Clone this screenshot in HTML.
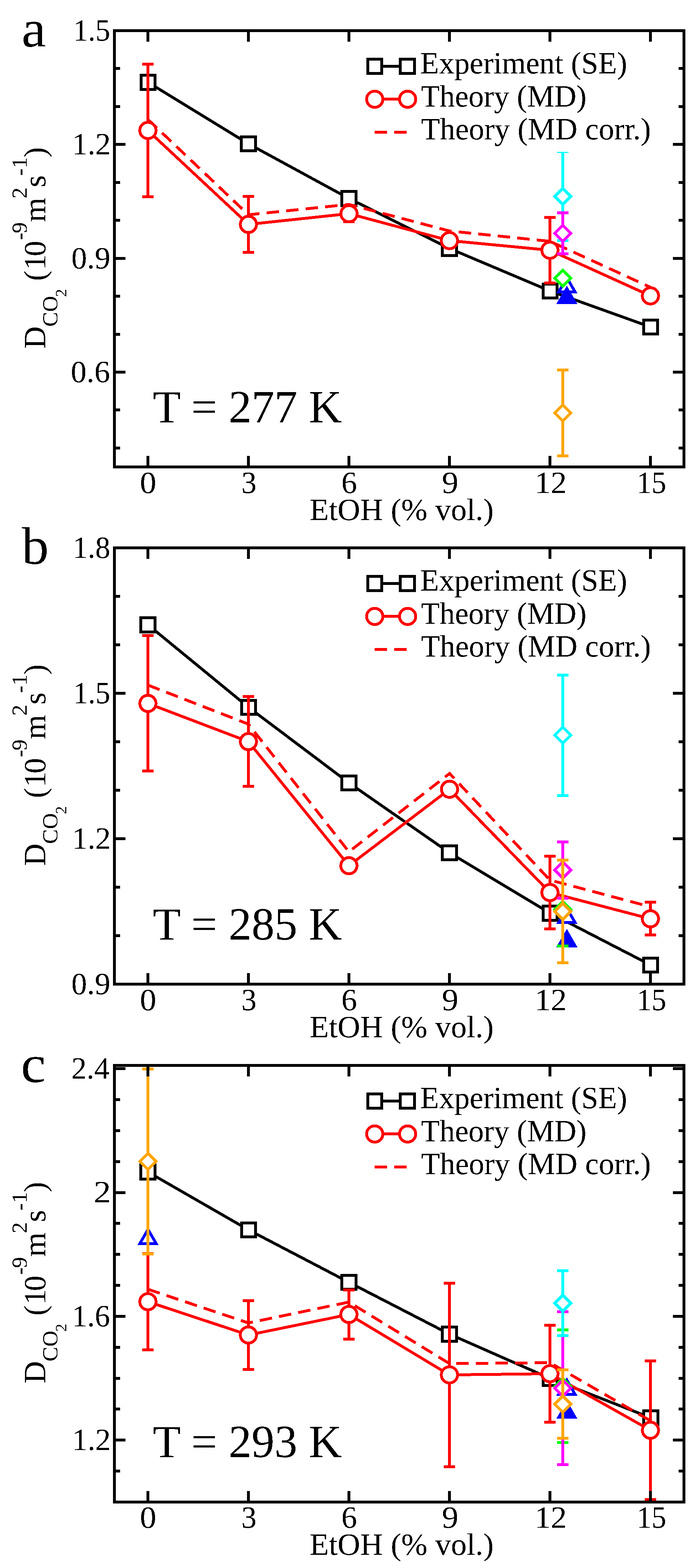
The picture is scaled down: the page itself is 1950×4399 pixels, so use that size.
<!DOCTYPE html>
<html><head><meta charset="utf-8"><title>D_CO2 vs EtOH</title><style>html,body{margin:0;padding:0;background:#fff;}svg{display:block;}</style></head><body>
<svg width="1950" height="4399" viewBox="0 0 1950 4399" font-family="'Liberation Serif', 'Times New Roman', serif" shape-rendering="crispEdges">
<defs><filter id="bin" x="-5%" y="-5%" width="110%" height="110%"><feComponentTransfer><feFuncA type="discrete" tableValues="0 1"/></feComponentTransfer></filter></defs>
<rect width="1950" height="4399" fill="#fff"/>
<text x="392.5" y="1383.3" font-size="87" text-anchor="start" filter="url(#bin)" textLength="46.0" lengthAdjust="spacingAndGlyphs">0</text>
<text x="677.2" y="1383.3" font-size="87" text-anchor="start" filter="url(#bin)" textLength="42.5" lengthAdjust="spacingAndGlyphs">3</text>
<text x="957.7" y="1383.3" font-size="87" text-anchor="start" filter="url(#bin)" textLength="43.9" lengthAdjust="spacingAndGlyphs">6</text>
<text x="1239.7" y="1383.3" font-size="87" text-anchor="start" filter="url(#bin)" textLength="46.4" lengthAdjust="spacingAndGlyphs">9</text>
<text x="1500.3" y="1383.3" font-size="87" text-anchor="start" filter="url(#bin)" textLength="90.0" lengthAdjust="spacingAndGlyphs">12</text>
<text x="1786.8" y="1383.3" font-size="87" text-anchor="start" filter="url(#bin)" textLength="82.5" lengthAdjust="spacingAndGlyphs">15</text>
<text x="1127.0" y="1459.2" font-size="87" text-anchor="middle" filter="url(#bin)" textLength="516.4" lengthAdjust="spacingAndGlyphs">EtOH (% vol.)</text>
<text x="60.6" y="131.4" font-size="148" text-anchor="start" filter="url(#bin)" textLength="68.8" lengthAdjust="spacingAndGlyphs">a</text>
<text x="428.7" y="1184.6" font-size="130" text-anchor="start" filter="url(#bin)" textLength="530.6" lengthAdjust="spacingAndGlyphs">T = 277 K</text>
<path d="M1051.5 186.0H1143" stroke="#000" stroke-width="8"/>
<rect x="1031.8" y="166.2" width="39.5" height="39.5" fill="#fff" stroke="#000000" stroke-width="8"/>
<rect x="1123.2" y="166.2" width="39.5" height="39.5" fill="#fff" stroke="#000000" stroke-width="8"/>
<path d="M1051.4 278.4H1143.7" stroke="#ff0000" stroke-width="8"/>
<circle cx="1051.4" cy="278.4" r="22.75" fill="#fff" stroke="#ff0000" stroke-width="8"/>
<circle cx="1143.7" cy="278.4" r="22.75" fill="#fff" stroke="#ff0000" stroke-width="8"/>
<path d="M1051 370.9H1143" stroke="#ff0000" stroke-width="8" stroke-dasharray="35 20"/>
<text x="1179.1" y="205.6" font-size="87" text-anchor="start" filter="url(#bin)" textLength="580.7" lengthAdjust="spacingAndGlyphs">Experiment (SE)</text>
<text x="1181.2" y="298.8" font-size="87" text-anchor="start" filter="url(#bin)" textLength="464.5" lengthAdjust="spacingAndGlyphs">Theory (MD)</text>
<text x="1181.2" y="390.6" font-size="87" text-anchor="start" filter="url(#bin)" textLength="645.2" lengthAdjust="spacingAndGlyphs">Theory (MD corr.)</text>
<g transform="translate(0 0)"><text transform="rotate(-90)" filter="url(#bin)"><tspan x="-978.3" y="126.8" font-size="87">D</tspan><tspan x="-916.4" y="160.8" font-size="62">CO</tspan><tspan x="-832.9" y="185.6" font-size="45">2</tspan><tspan x="-788.1" y="126.8" font-size="87">(</tspan><tspan x="-757.4" y="126.8" font-size="87">1</tspan><tspan x="-719.0" y="126.8" font-size="87">0</tspan><tspan x="-673.3" y="75.0" font-size="62">-</tspan><tspan x="-654.6" y="75.0" font-size="62">9</tspan><tspan x="-622.4" y="126.8" font-size="87">m</tspan><tspan x="-557.1" y="75.0" font-size="62">2</tspan><tspan x="-525.6" y="126.8" font-size="87">s</tspan><tspan x="-493.0" y="75.0" font-size="62">-</tspan><tspan x="-472.0" y="75.0" font-size="62">1</tspan><tspan x="-441.8" y="126.8" font-size="87">)</tspan></text></g>
<path d="M415.5 231.0 L697.0 403.4 L979.0 556.8 L1261.0 697.0 L1543.4 816.3 L1825.5 917.4" fill="none" stroke="#000000" stroke-width="8" stroke-linejoin="miter"/>
<rect x="395.8" y="211.2" width="39.5" height="39.5" fill="#fff" stroke="#000000" stroke-width="8"/>
<rect x="677.2" y="383.6" width="39.5" height="39.5" fill="#fff" stroke="#000000" stroke-width="8"/>
<rect x="959.2" y="537.0" width="39.5" height="39.5" fill="#fff" stroke="#000000" stroke-width="8"/>
<rect x="1241.2" y="677.2" width="39.5" height="39.5" fill="#fff" stroke="#000000" stroke-width="8"/>
<rect x="1523.7" y="796.5" width="39.5" height="39.5" fill="#fff" stroke="#000000" stroke-width="8"/>
<rect x="1805.8" y="897.6" width="39.5" height="39.5" fill="#fff" stroke="#000000" stroke-width="8"/>
<path d="M415.0 180.0V552.0" stroke="#ff0000" stroke-width="8"/><rect x="399.0" y="176.0" width="32" height="8" fill="#ff0000"/><rect x="399.0" y="548.0" width="32" height="8" fill="#ff0000"/>
<path d="M697.0 551.0V708.0" stroke="#ff0000" stroke-width="8"/><rect x="681.0" y="547.0" width="32" height="8" fill="#ff0000"/><rect x="681.0" y="704.0" width="32" height="8" fill="#ff0000"/>
<path d="M979.2 577.0V622.0" stroke="#ff0000" stroke-width="8"/><rect x="963.2" y="573.0" width="32" height="8" fill="#ff0000"/><rect x="963.2" y="618.0" width="32" height="8" fill="#ff0000"/>
<path d="M1543.0 610.0V794.0" stroke="#ff0000" stroke-width="8"/><rect x="1527.0" y="606.0" width="32" height="8" fill="#ff0000"/><rect x="1527.0" y="790.0" width="32" height="8" fill="#ff0000"/>
<path d="M415.0 366.0 L697.0 629.5 L979.2 599.4 L1261.0 675.0 L1543.0 702.0 L1825.0 830.0" fill="none" stroke="#ff0000" stroke-width="8" stroke-linejoin="miter"/>
<circle cx="415.0" cy="366.0" r="22.75" fill="#fff" stroke="#ff0000" stroke-width="8"/>
<circle cx="697.0" cy="629.5" r="22.75" fill="#fff" stroke="#ff0000" stroke-width="8"/>
<circle cx="979.2" cy="599.4" r="22.75" fill="#fff" stroke="#ff0000" stroke-width="8"/>
<circle cx="1261.0" cy="675.0" r="22.75" fill="#fff" stroke="#ff0000" stroke-width="8"/>
<circle cx="1543.0" cy="702.0" r="22.75" fill="#fff" stroke="#ff0000" stroke-width="8"/>
<circle cx="1825.0" cy="830.0" r="22.75" fill="#fff" stroke="#ff0000" stroke-width="8"/>
<path d="M415.0 335.0 L697.0 602.5 L979.0 573.5 L1261.0 648.0 L1543.0 677.0 L1825.0 806.0" fill="none" stroke="#ff0000" stroke-width="8" stroke-linejoin="miter" stroke-dasharray="35 20"/>
<path d="M1590.5 779.1L1613.4 818.7L1567.6 818.7Z" fill="#fff" stroke="#0000ff" stroke-width="8" stroke-linejoin="miter"/>
<path d="M1590.5 809.4L1613.4 849.0L1567.6 849.0Z" fill="#0000ff" stroke="#0000ff" stroke-width="8" stroke-linejoin="miter"/>
<path d="M1579.0 427.5V675.0" stroke="#00ffff" stroke-width="8"/><rect x="1563.0" y="426.0" width="32" height="3" fill="#00ffff"/><rect x="1563.0" y="671.0" width="32" height="8" fill="#00ffff"/>
<path d="M1579.0 528.4L1601.6 551.0L1579.0 573.6L1556.4 551.0Z" fill="#fff" stroke="#00ffff" stroke-width="8" stroke-linejoin="miter"/>
<path d="M1579.0 597.0V712.0" stroke="#ff00ff" stroke-width="8"/><rect x="1563.0" y="593.0" width="32" height="8" fill="#ff00ff"/><rect x="1563.0" y="708.0" width="32" height="8" fill="#ff00ff"/>
<path d="M1579.0 631.8L1601.6 654.4L1579.0 677.0L1556.4 654.4Z" fill="#fff" stroke="#ff00ff" stroke-width="8" stroke-linejoin="miter"/>
<path d="M1579.0 757.7L1601.6 780.3L1579.0 802.9L1556.4 780.3Z" fill="#fff" stroke="#00ff00" stroke-width="8" stroke-linejoin="miter"/>
<path d="M1579.0 1038.0V1279.0" stroke="#ffa500" stroke-width="8"/><rect x="1563.0" y="1034.0" width="32" height="8" fill="#ffa500"/><rect x="1563.0" y="1275.0" width="32" height="8" fill="#ffa500"/>
<path d="M1579.0 1135.7L1601.6 1158.3L1579.0 1180.9L1556.4 1158.3Z" fill="#fff" stroke="#ffa500" stroke-width="8" stroke-linejoin="miter"/>
<g stroke="#000" stroke-width="8" fill="none" shape-rendering="crispEdges">
<rect x="321" y="86" width="1598" height="1224"/>
<path d="M415 1310V1279 M415 86V117 M697 1310V1279 M697 86V117 M979 1310V1279 M979 86V117 M1261 1310V1279 M1261 86V117 M1543 1310V1279 M1543 86V117 M1825 1310V1279 M1825 86V117 M321 86.0H352 M1919 86.0H1888 M321 405.3H352 M1919 405.3H1888 M321 724.6H352 M1919 724.6H1888 M321 1043.9H352 M1919 1043.9H1888 M321 192.4H337 M1919 192.4H1904 M321 298.9H337 M1919 298.9H1904 M321 511.7H337 M1919 511.7H1904 M321 618.2H337 M1919 618.2H1904 M321 831.0H337 M1919 831.0H1904 M321 937.5H337 M1919 937.5H1904 M321 1150.3H337 M1919 1150.3H1904 M321 1256.8H337 M1919 1256.8H1904"/>
</g>
<text x="309.2" y="113.9" font-size="87" text-anchor="end" filter="url(#bin)" textLength="103.5" lengthAdjust="spacingAndGlyphs">1.5</text>
<text x="310.8" y="433.2" font-size="87" text-anchor="end" filter="url(#bin)" textLength="108.6" lengthAdjust="spacingAndGlyphs">1.2</text>
<text x="309.6" y="752.5" font-size="87" text-anchor="end" filter="url(#bin)" textLength="109.3" lengthAdjust="spacingAndGlyphs">0.9</text>
<text x="308.6" y="1071.8" font-size="87" text-anchor="end" filter="url(#bin)" textLength="109.9" lengthAdjust="spacingAndGlyphs">0.6</text>
<text x="392.5" y="2834.3" font-size="87" text-anchor="start" filter="url(#bin)" textLength="46.0" lengthAdjust="spacingAndGlyphs">0</text>
<text x="677.2" y="2834.3" font-size="87" text-anchor="start" filter="url(#bin)" textLength="42.5" lengthAdjust="spacingAndGlyphs">3</text>
<text x="957.7" y="2834.3" font-size="87" text-anchor="start" filter="url(#bin)" textLength="43.9" lengthAdjust="spacingAndGlyphs">6</text>
<text x="1239.7" y="2834.3" font-size="87" text-anchor="start" filter="url(#bin)" textLength="46.4" lengthAdjust="spacingAndGlyphs">9</text>
<text x="1500.3" y="2834.3" font-size="87" text-anchor="start" filter="url(#bin)" textLength="90.0" lengthAdjust="spacingAndGlyphs">12</text>
<text x="1786.8" y="2834.3" font-size="87" text-anchor="start" filter="url(#bin)" textLength="82.5" lengthAdjust="spacingAndGlyphs">15</text>
<text x="1127.0" y="2910.2" font-size="87" text-anchor="middle" filter="url(#bin)" textLength="516.4" lengthAdjust="spacingAndGlyphs">EtOH (% vol.)</text>
<text x="60.9" y="1582.4" font-size="148" text-anchor="start" filter="url(#bin)" textLength="75.8" lengthAdjust="spacingAndGlyphs">b</text>
<text x="428.7" y="2635.6" font-size="130" text-anchor="start" filter="url(#bin)" textLength="530.6" lengthAdjust="spacingAndGlyphs">T = 285 K</text>
<path d="M1051.5 1637.0H1143" stroke="#000" stroke-width="8"/>
<rect x="1031.8" y="1617.2" width="39.5" height="39.5" fill="#fff" stroke="#000000" stroke-width="8"/>
<rect x="1123.2" y="1617.2" width="39.5" height="39.5" fill="#fff" stroke="#000000" stroke-width="8"/>
<path d="M1051.4 1729.4H1143.7" stroke="#ff0000" stroke-width="8"/>
<circle cx="1051.4" cy="1729.4" r="22.75" fill="#fff" stroke="#ff0000" stroke-width="8"/>
<circle cx="1143.7" cy="1729.4" r="22.75" fill="#fff" stroke="#ff0000" stroke-width="8"/>
<path d="M1051 1821.9H1143" stroke="#ff0000" stroke-width="8" stroke-dasharray="35 20"/>
<text x="1179.1" y="1656.6" font-size="87" text-anchor="start" filter="url(#bin)" textLength="580.7" lengthAdjust="spacingAndGlyphs">Experiment (SE)</text>
<text x="1181.2" y="1749.8" font-size="87" text-anchor="start" filter="url(#bin)" textLength="464.5" lengthAdjust="spacingAndGlyphs">Theory (MD)</text>
<text x="1181.2" y="1841.6" font-size="87" text-anchor="start" filter="url(#bin)" textLength="645.2" lengthAdjust="spacingAndGlyphs">Theory (MD corr.)</text>
<g transform="translate(0 1451)"><text transform="rotate(-90)" filter="url(#bin)"><tspan x="-978.3" y="126.8" font-size="87">D</tspan><tspan x="-916.4" y="160.8" font-size="62">CO</tspan><tspan x="-832.9" y="185.6" font-size="45">2</tspan><tspan x="-788.1" y="126.8" font-size="87">(</tspan><tspan x="-757.4" y="126.8" font-size="87">1</tspan><tspan x="-719.0" y="126.8" font-size="87">0</tspan><tspan x="-673.3" y="75.0" font-size="62">-</tspan><tspan x="-654.6" y="75.0" font-size="62">9</tspan><tspan x="-622.4" y="126.8" font-size="87">m</tspan><tspan x="-557.1" y="75.0" font-size="62">2</tspan><tspan x="-525.6" y="126.8" font-size="87">s</tspan><tspan x="-493.0" y="75.0" font-size="62">-</tspan><tspan x="-472.0" y="75.0" font-size="62">1</tspan><tspan x="-441.8" y="126.8" font-size="87">)</tspan></text></g>
<path d="M415.0 1752.8 L697.4 1984.4 L979.0 2196.3 L1261.0 2392.3 L1543.5 2561.9 L1825.5 2707.3" fill="none" stroke="#000000" stroke-width="8" stroke-linejoin="miter"/>
<rect x="395.2" y="1733.0" width="39.5" height="39.5" fill="#fff" stroke="#000000" stroke-width="8"/>
<rect x="677.6" y="1964.7" width="39.5" height="39.5" fill="#fff" stroke="#000000" stroke-width="8"/>
<rect x="959.2" y="2176.6" width="39.5" height="39.5" fill="#fff" stroke="#000000" stroke-width="8"/>
<rect x="1241.2" y="2372.6" width="39.5" height="39.5" fill="#fff" stroke="#000000" stroke-width="8"/>
<rect x="1523.8" y="2542.2" width="39.5" height="39.5" fill="#fff" stroke="#000000" stroke-width="8"/>
<rect x="1805.8" y="2687.6" width="39.5" height="39.5" fill="#fff" stroke="#000000" stroke-width="8"/>
<path d="M415.0 1783.0V2163.0" stroke="#ff0000" stroke-width="8"/><rect x="399.0" y="1779.0" width="32" height="8" fill="#ff0000"/><rect x="399.0" y="2159.0" width="32" height="8" fill="#ff0000"/>
<path d="M697.0 1954.0V2206.0" stroke="#ff0000" stroke-width="8"/><rect x="681.0" y="1950.0" width="32" height="8" fill="#ff0000"/><rect x="681.0" y="2202.0" width="32" height="8" fill="#ff0000"/>
<path d="M1543.0 2402.0V2606.0" stroke="#ff0000" stroke-width="8"/><rect x="1527.0" y="2398.0" width="32" height="8" fill="#ff0000"/><rect x="1527.0" y="2602.0" width="32" height="8" fill="#ff0000"/>
<path d="M1825.0 2531.0V2623.0" stroke="#ff0000" stroke-width="8"/><rect x="1809.0" y="2527.0" width="32" height="8" fill="#ff0000"/><rect x="1809.0" y="2619.0" width="32" height="8" fill="#ff0000"/>
<path d="M415.0 1973.4 L697.0 2080.6 L979.0 2428.7 L1261.3 2214.2 L1543.0 2504.0 L1825.0 2577.7" fill="none" stroke="#ff0000" stroke-width="8" stroke-linejoin="miter"/>
<circle cx="415.0" cy="1973.4" r="22.75" fill="#fff" stroke="#ff0000" stroke-width="8"/>
<circle cx="697.0" cy="2080.6" r="22.75" fill="#fff" stroke="#ff0000" stroke-width="8"/>
<circle cx="979.0" cy="2428.7" r="22.75" fill="#fff" stroke="#ff0000" stroke-width="8"/>
<circle cx="1261.3" cy="2214.2" r="22.75" fill="#fff" stroke="#ff0000" stroke-width="8"/>
<circle cx="1543.0" cy="2504.0" r="22.75" fill="#fff" stroke="#ff0000" stroke-width="8"/>
<circle cx="1825.0" cy="2577.7" r="22.75" fill="#fff" stroke="#ff0000" stroke-width="8"/>
<path d="M415.0 1922.0 L697.0 2031.5 L979.0 2389.7 L1261.5 2170.0 L1543.0 2469.0 L1825.0 2544.0" fill="none" stroke="#ff0000" stroke-width="8" stroke-linejoin="miter" stroke-dasharray="35 20"/>
<path d="M1590.5 2548.2L1613.4 2587.8L1567.6 2587.8Z" fill="#fff" stroke="#0000ff" stroke-width="8" stroke-linejoin="miter"/>
<path d="M1590.5 2613.9L1613.4 2653.5L1567.6 2653.5Z" fill="#0000ff" stroke="#0000ff" stroke-width="8" stroke-linejoin="miter"/>
<path d="M1579.0 1894.0V2231.7" stroke="#00ffff" stroke-width="8"/><rect x="1563.0" y="1890.0" width="32" height="8" fill="#00ffff"/><rect x="1563.0" y="2227.7" width="32" height="8" fill="#00ffff"/>
<path d="M1579.0 2040.1L1601.6 2062.7L1579.0 2085.3L1556.4 2062.7Z" fill="#fff" stroke="#00ffff" stroke-width="8" stroke-linejoin="miter"/>
<path d="M1579.0 2450.0V2654.0" stroke="#00ff00" stroke-width="8"/><rect x="1563.0" y="2446.0" width="32" height="8" fill="#00ff00"/><rect x="1563.0" y="2650.0" width="32" height="8" fill="#00ff00"/>
<path d="M1579.0 2529.4L1601.6 2552.0L1579.0 2574.6L1556.4 2552.0Z" fill="#fff" stroke="#00ff00" stroke-width="8" stroke-linejoin="miter"/>
<path d="M1579.0 2362.0V2519.8" stroke="#ff00ff" stroke-width="8"/><rect x="1563.0" y="2358.0" width="32" height="8" fill="#ff00ff"/><rect x="1563.0" y="2515.8" width="32" height="8" fill="#ff00ff"/>
<path d="M1579.0 2418.2L1601.6 2440.8L1579.0 2463.4L1556.4 2440.8Z" fill="#fff" stroke="#ff00ff" stroke-width="8" stroke-linejoin="miter"/>
<path d="M1579.0 2413.0V2701.0" stroke="#ffa500" stroke-width="8"/><rect x="1563.0" y="2409.0" width="32" height="8" fill="#ffa500"/><rect x="1563.0" y="2697.0" width="32" height="8" fill="#ffa500"/>
<path d="M1579.0 2534.4L1601.6 2557.0L1579.0 2579.6L1556.4 2557.0Z" fill="#fff" stroke="#ffa500" stroke-width="8" stroke-linejoin="miter"/>
<g stroke="#000" stroke-width="8" fill="none" shape-rendering="crispEdges">
<rect x="321" y="1537" width="1598" height="1224"/>
<path d="M415 2761V2730 M415 1537V1568 M697 2761V2730 M697 1537V1568 M979 2761V2730 M979 1537V1568 M1261 2761V2730 M1261 1537V1568 M1543 2761V2730 M1543 1537V1568 M1825 2761V2730 M1825 1537V1568 M321 1537.0H352 M1919 1537.0H1888 M321 1945.0H352 M1919 1945.0H1888 M321 2353.0H352 M1919 2353.0H1888 M321 2761.0H352 M1919 2761.0H1888 M321 1673.0H337 M1919 1673.0H1904 M321 1809.0H337 M1919 1809.0H1904 M321 2081.0H337 M1919 2081.0H1904 M321 2217.0H337 M1919 2217.0H1904 M321 2489.0H337 M1919 2489.0H1904 M321 2625.0H337 M1919 2625.0H1904"/>
</g>
<text x="309.2" y="1564.9" font-size="87" text-anchor="end" filter="url(#bin)" textLength="105.1" lengthAdjust="spacingAndGlyphs">1.8</text>
<text x="309.2" y="1972.9" font-size="87" text-anchor="end" filter="url(#bin)" textLength="103.5" lengthAdjust="spacingAndGlyphs">1.5</text>
<text x="310.8" y="2380.9" font-size="87" text-anchor="end" filter="url(#bin)" textLength="108.6" lengthAdjust="spacingAndGlyphs">1.2</text>
<text x="309.6" y="2788.9" font-size="87" text-anchor="end" filter="url(#bin)" textLength="109.3" lengthAdjust="spacingAndGlyphs">0.9</text>
<text x="392.5" y="4286.3" font-size="87" text-anchor="start" filter="url(#bin)" textLength="46.0" lengthAdjust="spacingAndGlyphs">0</text>
<text x="677.2" y="4286.3" font-size="87" text-anchor="start" filter="url(#bin)" textLength="42.5" lengthAdjust="spacingAndGlyphs">3</text>
<text x="957.7" y="4286.3" font-size="87" text-anchor="start" filter="url(#bin)" textLength="43.9" lengthAdjust="spacingAndGlyphs">6</text>
<text x="1239.7" y="4286.3" font-size="87" text-anchor="start" filter="url(#bin)" textLength="46.4" lengthAdjust="spacingAndGlyphs">9</text>
<text x="1500.3" y="4286.3" font-size="87" text-anchor="start" filter="url(#bin)" textLength="90.0" lengthAdjust="spacingAndGlyphs">12</text>
<text x="1786.8" y="4286.3" font-size="87" text-anchor="start" filter="url(#bin)" textLength="82.5" lengthAdjust="spacingAndGlyphs">15</text>
<text x="1127.0" y="4362.2" font-size="87" text-anchor="middle" filter="url(#bin)" textLength="516.4" lengthAdjust="spacingAndGlyphs">EtOH (% vol.)</text>
<text x="58.4" y="3035.9" font-size="148" text-anchor="start" filter="url(#bin)" textLength="69.8" lengthAdjust="spacingAndGlyphs">c</text>
<text x="428.7" y="4087.6" font-size="130" text-anchor="start" filter="url(#bin)" textLength="530.6" lengthAdjust="spacingAndGlyphs">T = 293 K</text>
<path d="M1051.5 3089.0H1143" stroke="#000" stroke-width="8"/>
<rect x="1031.8" y="3069.2" width="39.5" height="39.5" fill="#fff" stroke="#000000" stroke-width="8"/>
<rect x="1123.2" y="3069.2" width="39.5" height="39.5" fill="#fff" stroke="#000000" stroke-width="8"/>
<path d="M1051.4 3181.4H1143.7" stroke="#ff0000" stroke-width="8"/>
<circle cx="1051.4" cy="3181.4" r="22.75" fill="#fff" stroke="#ff0000" stroke-width="8"/>
<circle cx="1143.7" cy="3181.4" r="22.75" fill="#fff" stroke="#ff0000" stroke-width="8"/>
<path d="M1051 3273.9H1143" stroke="#ff0000" stroke-width="8" stroke-dasharray="35 20"/>
<text x="1179.1" y="3108.6" font-size="87" text-anchor="start" filter="url(#bin)" textLength="580.7" lengthAdjust="spacingAndGlyphs">Experiment (SE)</text>
<text x="1181.2" y="3201.8" font-size="87" text-anchor="start" filter="url(#bin)" textLength="464.5" lengthAdjust="spacingAndGlyphs">Theory (MD)</text>
<text x="1181.2" y="3293.6" font-size="87" text-anchor="start" filter="url(#bin)" textLength="645.2" lengthAdjust="spacingAndGlyphs">Theory (MD corr.)</text>
<g transform="translate(0 2903)"><text transform="rotate(-90)" filter="url(#bin)"><tspan x="-978.3" y="126.8" font-size="87">D</tspan><tspan x="-916.4" y="160.8" font-size="62">CO</tspan><tspan x="-832.9" y="185.6" font-size="45">2</tspan><tspan x="-788.1" y="126.8" font-size="87">(</tspan><tspan x="-757.4" y="126.8" font-size="87">1</tspan><tspan x="-719.0" y="126.8" font-size="87">0</tspan><tspan x="-673.3" y="75.0" font-size="62">-</tspan><tspan x="-654.6" y="75.0" font-size="62">9</tspan><tspan x="-622.4" y="126.8" font-size="87">m</tspan><tspan x="-557.1" y="75.0" font-size="62">2</tspan><tspan x="-525.6" y="126.8" font-size="87">s</tspan><tspan x="-493.0" y="75.0" font-size="62">-</tspan><tspan x="-472.0" y="75.0" font-size="62">1</tspan><tspan x="-441.8" y="126.8" font-size="87">)</tspan></text></g>
<path d="M415.0 3288.0 L697.5 3450.5 L979.0 3597.5 L1261.0 3742.8 L1543.5 3867.2 L1825.7 3977.5" fill="none" stroke="#000000" stroke-width="8" stroke-linejoin="miter"/>
<rect x="395.2" y="3268.2" width="39.5" height="39.5" fill="#fff" stroke="#000000" stroke-width="8"/>
<rect x="677.8" y="3430.8" width="39.5" height="39.5" fill="#fff" stroke="#000000" stroke-width="8"/>
<rect x="959.2" y="3577.8" width="39.5" height="39.5" fill="#fff" stroke="#000000" stroke-width="8"/>
<rect x="1241.2" y="3723.1" width="39.5" height="39.5" fill="#fff" stroke="#000000" stroke-width="8"/>
<rect x="1523.8" y="3847.4" width="39.5" height="39.5" fill="#fff" stroke="#000000" stroke-width="8"/>
<rect x="1806.0" y="3957.8" width="39.5" height="39.5" fill="#fff" stroke="#000000" stroke-width="8"/>
<path d="M415.0 3517.0V3786.8" stroke="#ff0000" stroke-width="8"/><rect x="399.0" y="3513.0" width="32" height="8" fill="#ff0000"/><rect x="399.0" y="3782.8" width="32" height="8" fill="#ff0000"/>
<path d="M697.0 3649.0V3841.6" stroke="#ff0000" stroke-width="8"/><rect x="681.0" y="3645.0" width="32" height="8" fill="#ff0000"/><rect x="681.0" y="3837.6" width="32" height="8" fill="#ff0000"/>
<path d="M979.0 3618.7V3756.7" stroke="#ff0000" stroke-width="8"/><rect x="963.0" y="3614.7" width="32" height="8" fill="#ff0000"/><rect x="963.0" y="3752.7" width="32" height="8" fill="#ff0000"/>
<path d="M1261.0 3600.0V4114.5" stroke="#ff0000" stroke-width="8"/><rect x="1245.0" y="3596.0" width="32" height="8" fill="#ff0000"/><rect x="1245.0" y="4110.5" width="32" height="8" fill="#ff0000"/>
<path d="M1543.0 3718.0V3989.8" stroke="#ff0000" stroke-width="8"/><rect x="1527.0" y="3714.0" width="32" height="8" fill="#ff0000"/><rect x="1527.0" y="3985.8" width="32" height="8" fill="#ff0000"/>
<path d="M1825.0 3818.3V4206.5" stroke="#ff0000" stroke-width="8"/><rect x="1809.0" y="3814.3" width="32" height="8" fill="#ff0000"/><rect x="1809.0" y="4202.5" width="32" height="8" fill="#ff0000"/>
<path d="M415.0 3651.9 L697.0 3745.3 L979.0 3687.7 L1261.0 3857.2 L1543.0 3853.9 L1825.0 4012.5" fill="none" stroke="#ff0000" stroke-width="8" stroke-linejoin="miter"/>
<circle cx="415.0" cy="3651.9" r="22.75" fill="#fff" stroke="#ff0000" stroke-width="8"/>
<circle cx="697.0" cy="3745.3" r="22.75" fill="#fff" stroke="#ff0000" stroke-width="8"/>
<circle cx="979.0" cy="3687.7" r="22.75" fill="#fff" stroke="#ff0000" stroke-width="8"/>
<circle cx="1261.0" cy="3857.2" r="22.75" fill="#fff" stroke="#ff0000" stroke-width="8"/>
<circle cx="1543.0" cy="3853.9" r="22.75" fill="#fff" stroke="#ff0000" stroke-width="8"/>
<circle cx="1825.0" cy="4012.5" r="22.75" fill="#fff" stroke="#ff0000" stroke-width="8"/>
<path d="M415.0 3617.0 L697.0 3711.5 L979.0 3653.0 L1261.0 3825.5 L1543.0 3823.0 L1825.0 3986.0" fill="none" stroke="#ff0000" stroke-width="8" stroke-linejoin="miter" stroke-dasharray="35 20"/>
<path d="M415.3 3449.2L438.2 3488.8L392.4 3488.8Z" fill="#fff" stroke="#0000ff" stroke-width="8" stroke-linejoin="miter"/>
<path d="M415.3 2998.5V3518.4" stroke="#ffa500" stroke-width="8"/><rect x="399.3" y="2994.5" width="32" height="8" fill="#ffa500"/><rect x="399.3" y="3514.4" width="32" height="8" fill="#ffa500"/>
<path d="M415.3 3235.8L437.9 3258.4L415.3 3281.0L392.7 3258.4Z" fill="#fff" stroke="#ffa500" stroke-width="8" stroke-linejoin="miter"/>
<path d="M1590.5 3872.0L1613.4 3911.6L1567.6 3911.6Z" fill="#fff" stroke="#0000ff" stroke-width="8" stroke-linejoin="miter"/>
<path d="M1590.5 3936.8L1613.4 3976.4L1567.6 3976.4Z" fill="#0000ff" stroke="#0000ff" stroke-width="8" stroke-linejoin="miter"/>
<path d="M1579.0 3731.0V4047.0" stroke="#00ff00" stroke-width="8"/><rect x="1563.0" y="3727.0" width="32" height="8" fill="#00ff00"/><rect x="1563.0" y="4043.0" width="32" height="8" fill="#00ff00"/>
<path d="M1579.0 3866.9L1601.6 3889.5L1579.0 3912.1L1556.4 3889.5Z" fill="#fff" stroke="#00ff00" stroke-width="8" stroke-linejoin="miter"/>
<path d="M1579.0 3680.0V4109.0" stroke="#ff00ff" stroke-width="8"/><rect x="1563.0" y="3676.0" width="32" height="8" fill="#ff00ff"/><rect x="1563.0" y="4105.0" width="32" height="8" fill="#ff00ff"/>
<path d="M1579.0 3872.0L1601.6 3894.6L1579.0 3917.2L1556.4 3894.6Z" fill="#fff" stroke="#ff00ff" stroke-width="8" stroke-linejoin="miter"/>
<path d="M1579.0 3565.0V3747.0" stroke="#00ffff" stroke-width="8"/><rect x="1563.0" y="3561.0" width="32" height="8" fill="#00ffff"/><rect x="1563.0" y="3743.0" width="32" height="8" fill="#00ffff"/>
<path d="M1579.0 3633.4L1601.6 3656.0L1579.0 3678.6L1556.4 3656.0Z" fill="#fff" stroke="#00ffff" stroke-width="8" stroke-linejoin="miter"/>
<path d="M1579.0 3843.0V4035.0" stroke="#ffa500" stroke-width="8"/><rect x="1563.0" y="3839.0" width="32" height="8" fill="#ffa500"/><rect x="1563.0" y="4031.0" width="32" height="8" fill="#ffa500"/>
<path d="M1579.0 3916.6L1601.6 3939.2L1579.0 3961.8L1556.4 3939.2Z" fill="#fff" stroke="#ffa500" stroke-width="8" stroke-linejoin="miter"/>
<g stroke="#000" stroke-width="8" fill="none" shape-rendering="crispEdges">
<rect x="321" y="2989" width="1598" height="1225"/>
<path d="M415 4214V4183 M415 2989V3020 M697 4214V4183 M697 2989V3020 M979 4214V4183 M979 2989V3020 M1261 4214V4183 M1261 2989V3020 M1543 4214V4183 M1543 2989V3020 M1825 4214V4183 M1825 2989V3020 M321 2998.1H352 M1919 2998.1H1888 M321 3345.5H352 M1919 3345.5H1888 M321 3692.9H352 M1919 3692.9H1888 M321 4040.3H352 M1919 4040.3H1888 M321 3084.9H337 M1919 3084.9H1904 M321 3171.8H337 M1919 3171.8H1904 M321 3258.7H337 M1919 3258.7H1904 M321 3432.3H337 M1919 3432.3H1904 M321 3519.2H337 M1919 3519.2H1904 M321 3606.1H337 M1919 3606.1H1904 M321 3779.8H337 M1919 3779.8H1904 M321 3866.6H337 M1919 3866.6H1904 M321 3953.4H337 M1919 3953.4H1904 M321 4127.1H337 M1919 4127.1H1904"/>
</g>
<text x="307.3" y="3026.0" font-size="87" text-anchor="end" filter="url(#bin)" textLength="107.1" lengthAdjust="spacingAndGlyphs">2.4</text>
<text x="311.3" y="3373.4" font-size="87" text-anchor="end" filter="url(#bin)" textLength="48.3" lengthAdjust="spacingAndGlyphs">2</text>
<text x="308.5" y="3720.8" font-size="87" text-anchor="end" filter="url(#bin)" textLength="106.3" lengthAdjust="spacingAndGlyphs">1.6</text>
<text x="310.8" y="4068.2" font-size="87" text-anchor="end" filter="url(#bin)" textLength="108.6" lengthAdjust="spacingAndGlyphs">1.2</text>
</svg>
</body></html>
